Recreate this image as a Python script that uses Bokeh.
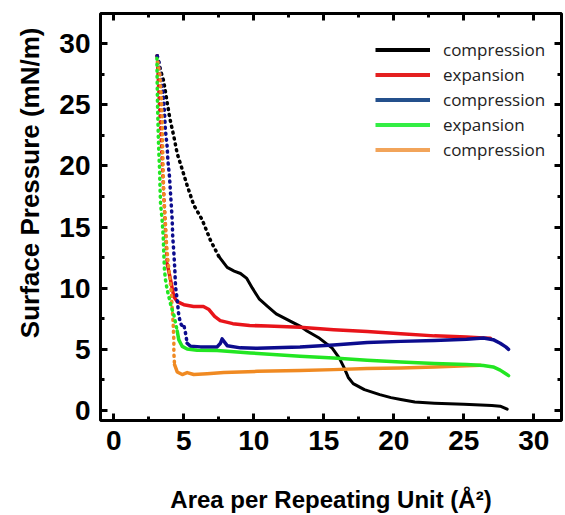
from bokeh.plotting import figure
from bokeh.models import (Range1d, LinearAxis, SingleIntervalTicker, Legend, LegendItem,
                          Title, CustomJSTickFormatter)
from bokeh.embed import file_html
from bokeh.resources import INLINE

# ---------------- data ----------------
legend_labels = ["compression", "expansion", "compression", "expansion", "compression"]
x_title = "Area per Repeating Unit (Å²)"
y_title = "Surface Pressure (mN/m)"
tick_interval = 5

# 1st compression (black)
black_steep_x = [3.10, 3.34, 3.57, 3.81, 4.00, 4.29, 4.53, 4.89, 5.24, 5.71, 6.31, 6.91, 7.50]
black_steep_y = [29.0, 27.8, 26.9, 25.2, 23.9, 22.4, 21.0, 19.7, 18.4, 16.8, 15.6, 13.9, 12.6]
black_flat_x = [7.50, 8.10, 8.60, 9.05, 9.50, 9.90, 10.40, 11.00, 11.60, 12.60, 13.30, 13.80, 14.70,
                15.60, 16.10, 16.45, 16.75, 17.10, 17.90, 19.00, 19.80, 20.50, 21.50, 22.90, 25.00,
                27.00, 27.60, 28.10]
black_flat_y = [12.6, 11.7, 11.4, 11.2, 10.8, 10.0, 9.1, 8.5, 7.9, 7.3, 6.9, 6.5, 5.9,
                5.1, 4.3, 3.5, 2.7, 2.2, 1.7, 1.3, 1.05, 0.9, 0.7, 0.6, 0.5,
                0.4, 0.35, 0.1]

# 1st expansion (red)
red_steep_x = [3.10, 3.22, 3.35, 3.47, 3.60, 3.72, 3.81]
red_steep_y = [29.0, 26.0, 23.0, 20.0, 17.0, 14.0, 12.0]
red_flat_x = [3.81, 4.05, 4.29, 4.53, 5.00, 5.70, 6.40, 6.80, 7.20, 7.60, 8.50, 9.70, 11.00,
              13.30, 15.70, 18.10, 20.50, 22.90, 25.20, 26.40, 26.90]
red_flat_y = [12.0, 10.7, 9.3, 8.9, 8.65, 8.5, 8.5, 8.25, 7.7, 7.35, 7.1, 6.95, 6.9,
              6.8, 6.6, 6.45, 6.28, 6.1, 6.0, 5.93, 5.9]

# 2nd compression (blue)
blue_steep_x = [3.10, 3.22, 3.39, 3.53, 3.62, 3.69, 3.81, 3.86, 3.98, 4.05, 4.10, 4.17, 4.21,
                4.29, 4.36, 4.41, 4.53, 4.64, 4.76, 4.89, 5.00, 5.12, 5.24]
blue_steep_y = [29.0, 28.5, 26.9, 25.9, 24.4, 22.9, 21.6, 20.5, 19.1, 17.8, 16.9, 15.6, 14.2,
                12.9, 11.5, 10.1, 9.05, 7.8, 7.15, 6.9, 7.0, 6.34, 5.5]
blue_flat_x = [5.24, 5.48, 6.19, 7.38, 7.62, 7.74, 8.10, 9.05, 10.24, 13.30, 15.70, 18.10,
               20.50, 22.90, 25.20, 26.40, 27.10, 27.60, 28.00, 28.20]
blue_flat_y = [5.5, 5.25, 5.2, 5.2, 5.5, 5.85, 5.3, 5.12, 5.08, 5.2, 5.36, 5.55,
               5.65, 5.72, 5.82, 5.92, 5.79, 5.5, 5.2, 5.0]

# 2nd expansion (green)
green_steep_x = [3.08, 3.10, 3.12, 3.15, 3.18, 3.22, 3.27, 3.30, 3.34, 3.45, 3.53, 3.57, 3.62,
                 3.69, 3.81, 3.93, 4.10, 4.29, 4.41, 4.53]
green_steep_y = [28.8, 26.8, 25.2, 23.8, 22.4, 21.0, 19.7, 18.3, 16.9, 15.6, 14.2, 12.9, 11.5,
                 10.7, 9.9, 9.3, 8.5, 7.8, 7.15, 6.5]
green_flat_x = [4.53, 4.64, 4.76, 4.89, 5.24, 5.95, 7.38, 9.76, 13.30, 15.70, 18.10, 20.50,
                22.90, 25.20, 26.40, 27.10, 27.60, 28.00, 28.20]
green_flat_y = [6.5, 5.79, 5.52, 5.24, 5.03, 4.92, 4.9, 4.7, 4.43, 4.3, 4.1, 3.96,
                3.85, 3.75, 3.68, 3.56, 3.3, 3.0, 2.85]

# 3rd compression (orange)
orange_steep_x = [3.15, 3.30, 3.40, 3.45, 3.50, 3.57, 3.69, 3.76, 3.86, 4.00, 4.10, 4.17, 4.24,
                  4.29, 4.29, 4.34]
orange_steep_y = [28.5, 27.4, 25.5, 24.0, 21.0, 17.5, 15.3, 13.7, 12.3, 10.95, 9.7, 8.4, 7.15,
                  5.79, 4.7, 3.75]
orange_flat_x = [4.34, 4.53, 4.89, 5.24, 5.71, 6.67, 7.86, 10.24, 13.30, 15.70, 18.10, 20.50,
                 22.90, 25.20, 26.20]
orange_flat_y = [3.75, 3.15, 2.94, 3.1, 2.94, 3.0, 3.1, 3.2, 3.26, 3.34, 3.43, 3.48,
                 3.56, 3.65, 3.7]

# ---------------- styling ----------------
FONT = "Liberation Sans"
data_colors = ["#000000", "#e8141a", "#0c0c8e", "#22e622", "#f08a22"]
legend_colors = ["#000000", "#e42020", "#24508c", "#33ee44", "#f2a45a"]

p = figure(width=565, height=515, output_backend="svg", toolbar_location=None,
           x_range=Range1d(-0.95, 31.98), y_range=Range1d(-0.82, 32.46),
           min_border_left=100, min_border_right=4, min_border_top=13, min_border_bottom=94)
p.grid.visible = False
p.background_fill_color = "white"
p.border_fill_color = "white"
p.outline_line_color = "black"
p.outline_line_width = 3


def style_axis(ax, labels=True):
    ax.ticker = SingleIntervalTicker(interval=tick_interval, num_minor_ticks=2)
    ax.axis_line_color = None
    ax.major_tick_in = 7
    ax.major_tick_out = 0
    ax.minor_tick_in = 4
    ax.minor_tick_out = 0
    ax.major_tick_line_width = 3
    ax.minor_tick_line_width = 3
    ax.major_tick_line_color = "black"
    ax.minor_tick_line_color = "black"
    if labels:
        ax.major_label_text_font = FONT
        ax.major_label_text_font_size = "28px"
        ax.major_label_text_font_style = "bold"
        ax.major_label_text_color = "black"
    else:
        ax.formatter = CustomJSTickFormatter(code="return ''")
        ax.major_label_standoff = 0


xa = p.xaxis[0]
ya = p.yaxis[0]
style_axis(xa)
style_axis(ya)
xa.major_label_standoff = 10
ya.major_label_standoff = 10

xa.axis_label = x_title
xa.axis_label_text_font = FONT
xa.axis_label_text_font_size = "24px"
xa.axis_label_text_font_style = "bold"
xa.axis_label_text_color = "black"
xa.axis_label_standoff = 33

top_ax = LinearAxis()
style_axis(top_ax, labels=False)
p.add_layout(top_ax, "above")
right_ax = LinearAxis()
style_axis(right_ax, labels=False)
p.add_layout(right_ax, "right")

ytitle = Title(text=y_title, align="right", offset=14, standoff=23,
               text_font=FONT, text_font_size="26px", text_font_style="bold",
               text_color="black")
p.add_layout(ytitle, "left")

series = [
    (black_steep_x, black_steep_y, black_flat_x, black_flat_y, 3.0),
    (red_steep_x, red_steep_y, red_flat_x, red_flat_y, 3.5),
    (blue_steep_x, blue_steep_y, blue_flat_x, blue_flat_y, 3.5),
    (orange_steep_x, orange_steep_y, orange_flat_x, orange_flat_y, 3.5),
    (green_steep_x, green_steep_y, green_flat_x, green_flat_y, 3.5),
]
order_colors = [data_colors[0], data_colors[1], data_colors[2], data_colors[4], data_colors[3]]
for (sx, sy, fx, fy, lw), col in zip(series, order_colors):
    p.line(sx, sy, line_color=col, line_width=3.5, line_dash="1 5", line_cap="round")
    p.line(fx, fy, line_color=col, line_width=lw, line_cap="round", line_join="round")

# legend keys: hidden copies of the plateau lines carrying the legend colours
legend_series = [(black_flat_x, black_flat_y), (red_flat_x, red_flat_y),
                 (blue_flat_x, blue_flat_y), (green_flat_x, green_flat_y),
                 (orange_flat_x, orange_flat_y)]
items = []
for lab, col, (fx, fy) in zip(legend_labels, legend_colors, legend_series):
    r = p.line(fx, fy, line_color=col, line_width=4, visible=False)
    items.append(LegendItem(label=lab, renderers=[r]))

legend = Legend(items=items, location=(275, 259), glyph_width=55, glyph_height=23,
                label_height=23, spacing=2, padding=0, margin=0, label_standoff=13,
                border_line_color=None, background_fill_alpha=0,
                label_text_font="Open Sans", label_text_font_size="17px",
                label_text_color="#222222")
p.add_layout(legend)

open("out.html", "w").write(file_html(p, INLINE))
